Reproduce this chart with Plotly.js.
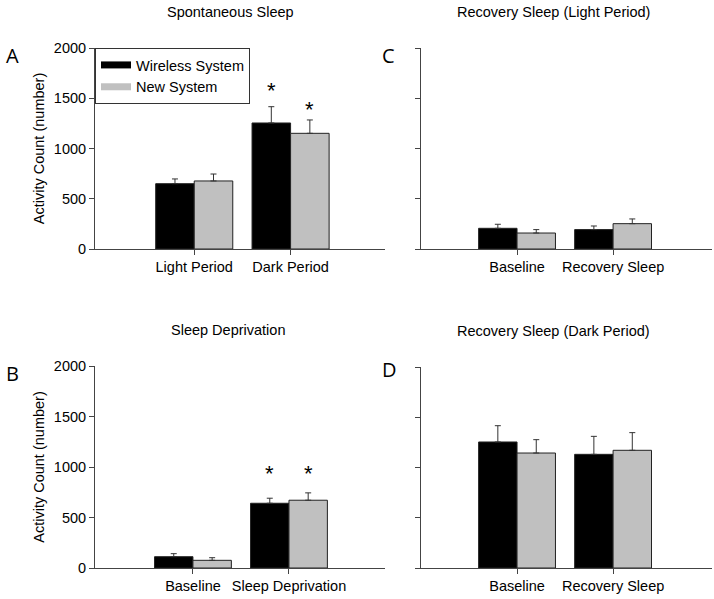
<!DOCTYPE html>
<html>
<head>
<meta charset="utf-8">
<script src="https://cdn.plot.ly/plotly-3.0.1.min.js"></script>
<style>html,body{margin:0;padding:0;background:#fff;}#chart{width:714px;height:599px;}</style>
</head>
<body>
<div id="chart"></div>
<script>
// ---- Data ----
const seriesNames = ['Wireless System', 'New System'];

// Panel A: Spontaneous Sleep
const catsA = ['Light Period', 'Dark Period'];
const wirelessA = [650, 1254];
const wirelessErrA = [47, 162];
const newA = [677, 1151];
const newErrA = [69, 133];
const wirelessStarA = [null, 1590];
const newStarA = [null, 1400];

// Panel B: Sleep Deprivation
const catsB = ['Baseline', 'Sleep Deprivation'];
const wirelessB = [112, 641];
const wirelessErrB = [30, 50];
const newB = [76, 671];
const newErrB = [26, 73];
const wirelessStarB = [null, 955];
const newStarB = [null, 955];

// Panel C: Recovery Sleep (Light Period)
const catsC = ['Baseline', 'Recovery Sleep'];
const wirelessC = [206, 193];
const wirelessErrC = [40, 36];
const newC = [159, 252];
const newErrC = [34, 47];

// Panel D: Recovery Sleep (Dark Period)
const catsD = ['Baseline', 'Recovery Sleep'];
const wirelessD = [1254, 1131];
const wirelessErrD = [162, 179];
const newD = [1144, 1171];
const newErrD = [133, 176];

const yTicks = [0, 500, 1000, 1500, 2000];
const panelTitles = ['Spontaneous Sleep', 'Recovery Sleep (Light Period)', 'Sleep Deprivation', 'Recovery Sleep (Dark Period)'];
const panelLetters = ['A', 'C', 'B', 'D'];
const yTitle = 'Activity Count (number)';

// ---- Styling / layout ----
const W = 714, H = 599;
const FONT = 'Liberation Sans, Arial, sans-serif';
const FS = 14.5;
const LETTER_FONT = 'Open Sans, Noto Sans, sans-serif';
const BLACK = '#000000', GREY = '#c0c0c0', LINE = '#444444', OUTLINE = '#222222';
const px = v => v / W;
const py = v => 1 - v / H;

function barTrace(cats, vals, errs, color, name, xa, ya) {
  return {
    type: 'bar', x: cats, y: vals, name: name, showlegend: false,
    xaxis: xa, yaxis: ya,
    marker: {color: color, line: {color: OUTLINE, width: 1}},
    error_y: {type: 'data', symmetric: false, array: errs, arrayminus: errs.map(() => 0),
              color: '#333333', thickness: 1, width: 3},
    hoverinfo: 'skip'
  };
}

const panels = [
  {cats: catsA, w: wirelessA, we: wirelessErrA, n: newA, ne: newErrA, ws: wirelessStarA, ns: newStarA, xa: 'x', ya: 'y'},
  {cats: catsC, w: wirelessC, we: wirelessErrC, n: newC, ne: newErrC, ws: null, ns: null, xa: 'x2', ya: 'y2'},
  {cats: catsB, w: wirelessB, we: wirelessErrB, n: newB, ne: newErrB, ws: wirelessStarB, ns: newStarB, xa: 'x3', ya: 'y3'},
  {cats: catsD, w: wirelessD, we: wirelessErrD, n: newD, ne: newErrD, ws: null, ns: null, xa: 'x4', ya: 'y4'}
];

const traces = [];
const annotations = [];
panels.forEach(p => {
  traces.push(barTrace(p.cats, p.w, p.we, BLACK, seriesNames[0], p.xa, p.ya));
  traces.push(barTrace(p.cats, p.n, p.ne, GREY, seriesNames[1], p.xa, p.ya));
  [[p.ws, -0.2], [p.ns, 0.2]].forEach(([stars, off]) => {
    if (!stars) return;
    stars.forEach((s, i) => {
      if (s == null) return;
      annotations.push({xref: p.xa, yref: p.ya, x: i + off, y: s - 15, text: '*', showarrow: false,
        xanchor: 'center', yanchor: 'middle', font: {family: FONT, size: 22, color: '#000'}});
    });
  });
});

// Legend entries (line swatches)
traces.push({type: 'scatter', mode: 'lines', x: [null], y: [null], name: seriesNames[0], xaxis: 'x', yaxis: 'y',
  line: {color: BLACK, width: 7}, showlegend: true});
traces.push({type: 'scatter', mode: 'lines', x: [null], y: [null], name: seriesNames[1], xaxis: 'x', yaxis: 'y',
  line: {color: GREY, width: 7}, showlegend: true});

// Panel titles and letters
const titlePos = [[230, 12], [553, 12], [228, 330], [553, 331]];
panelTitles.forEach((t, i) => annotations.push({xref: 'paper', yref: 'paper', x: px(titlePos[i][0]), y: py(titlePos[i][1]),
  text: t, showarrow: false, xanchor: 'center', yanchor: 'middle', font: {family: FONT, size: FS, color: '#000'}}));
const letterPos = [[12, 56], [389, 56], [12, 373], [390, 369]];
panelLetters.forEach((t, i) => annotations.push({xref: 'paper', yref: 'paper', x: px(letterPos[i][0]), y: py(letterPos[i][1]),
  text: t, showarrow: false, xanchor: 'center', yanchor: 'middle', font: {family: LETTER_FONT, size: 20, color: '#000'}}));

function xAxis(domain, range, anchor) {
  return {domain: domain, anchor: anchor, type: 'category', range: range, showline: true, linecolor: LINE, linewidth: 1,
    ticks: 'outside', ticklen: 5, tickcolor: LINE, showgrid: false, zeroline: false,
    tickfont: {family: FONT, size: FS, color: '#000'}, fixedrange: true};
}
function yAxis(domain, anchor, labels) {
  return {domain: domain, anchor: anchor, range: [0, 2000], tickvals: yTicks, showticklabels: labels,
    showline: true, linecolor: LINE, linewidth: 1, ticks: 'outside', ticklen: 5, tickcolor: LINE,
    showgrid: false, zeroline: false, tickfont: {family: FONT, size: FS, color: '#000'},
    title: labels ? {text: yTitle, font: {family: FONT, size: FS, color: '#000'}, standoff: 5} : {text: ''},
    fixedrange: true};
}

const layout = {
  width: W, height: H, autosize: false,
  margin: {l: 0, r: 0, t: 0, b: 0},
  paper_bgcolor: '#fff', plot_bgcolor: 'rgba(0,0,0,0)',
  barmode: 'group', bargap: 0.2, bargroupgap: 0,
  font: {family: FONT, size: FS, color: '#000'},
  xaxis: xAxis([px(95), px(385)], [-1.03, 1.98], 'y'),
  yaxis: yAxis([py(249), py(48)], 'x', true),
  xaxis2: xAxis([px(421), px(712)], [-1.0, 2.03], 'y2'),
  yaxis2: yAxis([py(249), py(48)], 'x2', false),
  xaxis3: xAxis([px(95), px(385)], [-1.02, 2.0], 'y3'),
  yaxis3: yAxis([py(568), py(366)], 'x3', true),
  xaxis4: xAxis([px(421), px(712)], [-1.0, 2.03], 'y4'),
  yaxis4: yAxis([py(568), py(367)], 'x4', false),
  showlegend: true,
  legend: {x: px(95), y: py(48), xanchor: 'left', yanchor: 'top', bgcolor: '#fff',
    bordercolor: '#333', borderwidth: 1, font: {family: FONT, size: FS, color: '#000'},
    tracegroupgap: 0, itemwidth: 30},
  annotations: annotations
};

Plotly.newPlot('chart', traces, layout, {staticPlot: true, displayModeBar: false});
</script>
</body>
</html>
